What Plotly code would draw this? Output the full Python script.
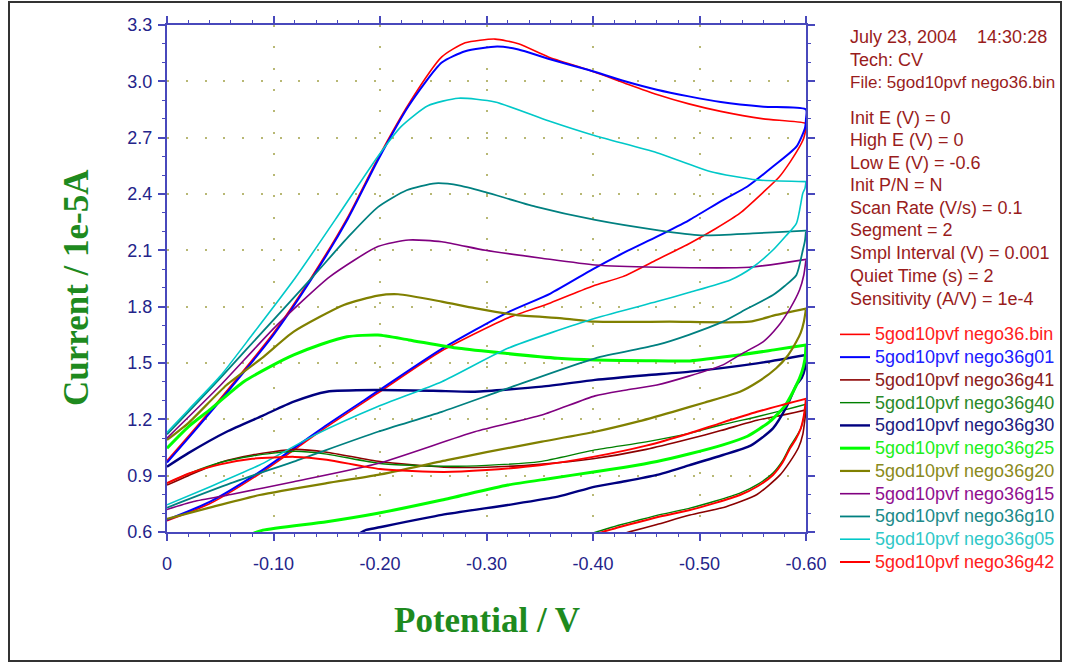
import plotly.graph_objects as go

# ---- cyclic voltammograms (potential in V, current in 1e-5 A) ----
# each curve: forward scan 0 -> -0.6 V followed by the return scan -0.6 -> 0 V

names = [
    "5god10pvf nego36.bin", "5god10pvf nego36g01", "5god10pvf nego36g41",
    "5god10pvf nego36g40", "5god10pvf nego36g30", "5god10pvf nego36g25",
    "5god10pvf nego36g20", "5god10pvf nego36g15", "5god10pvf nego36g10",
    "5god10pvf nego36g05", "5god10pvf nego36g42",
]
colors = ["#ff0000", "#0000ff", "#8b0000", "#008000", "#000080", "#00ff00",
          "#808000", "#800080", "#008080", "#00c8c8", "#ff0000"]
label_colors = ["#ff2020", "#2020ff", "#8b2020", "#2a8a2a", "#202080", "#20ee20",
                "#8a8a20", "#901090", "#208a8a", "#30c8c8", "#ff2020"]
widths = [1.6, 2.0, 1.6, 1.4, 2.4, 3.0, 2.2, 1.6, 1.8, 1.6, 2.0]

# nego36.bin
v_bin = [0, -0.02, -0.05, -0.10, -0.136, -0.17, -0.198, -0.227, -0.258, -0.28, -0.308, -0.33,
         -0.358, -0.396, -0.43, -0.46, -0.49, -0.52, -0.56, -0.6,
         -0.6, -0.598, -0.594, -0.585, -0.575, -0.56, -0.538, -0.515, -0.491, -0.46, -0.428,
         -0.40, -0.36, -0.32, -0.258, -0.198, -0.15, -0.087, -0.04, 0]
i_bin = [0.98, 1.11, 1.31, 1.66, 1.96, 2.28, 2.59, 2.88, 3.13, 3.205, 3.225, 3.20,
         3.13, 3.06, 2.99, 2.93, 2.88, 2.84, 2.80, 2.775,
         2.76, 2.70, 2.652, 2.57, 2.492, 2.41, 2.298, 2.215, 2.138, 2.05, 1.96,
         1.91, 1.82, 1.74, 1.565, 1.34, 1.16, 0.91, 0.75, 0.66]

# nego36g01
v_g01 = [0, -0.02, -0.05, -0.10, -0.136, -0.17, -0.198, -0.227, -0.258, -0.28, -0.31, -0.33,
         -0.358, -0.396, -0.43, -0.46, -0.49, -0.52, -0.56, -0.6,
         -0.6, -0.599, -0.591, -0.569, -0.545, -0.522, -0.49, -0.46, -0.43, -0.40,
         -0.36, -0.32, -0.258, -0.198, -0.15, -0.087, -0.04, 0]
i_g01 = [0.97, 1.10, 1.30, 1.65, 1.95, 2.27, 2.58, 2.87, 3.10, 3.16, 3.185, 3.17,
         3.12, 3.06, 3.00, 2.955, 2.92, 2.89, 2.865, 2.85,
         2.80, 2.75, 2.652, 2.546, 2.44, 2.368, 2.26, 2.173, 2.09, 2.0,
         1.87, 1.77, 1.575, 1.35, 1.17, 0.92, 0.76, 0.665]

# shared forward-scan potentials of the three low curves
v_low_fwd = [0, -0.02, -0.05, -0.08, -0.12, -0.15, -0.20, -0.26, -0.30, -0.35, -0.40,
             -0.45, -0.49, -0.52, -0.554, -0.58, -0.6]

# nego36g41
v_g41 = v_low_fwd + [-0.6, -0.599, -0.597, -0.593, -0.585, -0.575, -0.554, -0.525,
                     -0.491, -0.46, -0.435, -0.425]
i_g41 = [0.85, 0.90, 0.97, 1.01, 1.04, 1.025, 0.975, 0.945, 0.945, 0.96, 0.99,
         1.04, 1.095, 1.14, 1.195, 1.225, 1.25,
         1.25, 1.20, 1.12, 1.05, 0.975, 0.90, 0.80, 0.735, 0.69, 0.64, 0.602, 0.585]

# nego36g40
v_g40 = v_low_fwd + [-0.6, -0.598, -0.595, -0.59, -0.585, -0.578, -0.569, -0.555, -0.538,
                     -0.515, -0.491, -0.465, -0.444, -0.425, -0.41, -0.40]
i_g40 = [0.86, 0.91, 0.97, 1.005, 1.03, 1.015, 0.965, 0.95, 0.955, 0.975, 1.035,
         1.08, 1.125, 1.17, 1.214, 1.25, 1.28,
         1.28, 1.21, 1.15, 1.10, 1.056, 0.98, 0.914, 0.855, 0.807,
         0.765, 0.727, 0.695, 0.665, 0.637, 0.612, 0.595]

# nego36g30
v_g30 = [0, -0.02, -0.056, -0.09, -0.119, -0.15, -0.198, -0.25, -0.289, -0.352, -0.402,
         -0.45, -0.491, -0.554, -0.6,
         -0.6, -0.599, -0.596, -0.591, -0.582, -0.569, -0.548, -0.522, -0.49, -0.46,
         -0.43, -0.402, -0.367, -0.32, -0.258, -0.195, -0.187, -0.18]
i_g30 = [0.948, 1.02, 1.134, 1.22, 1.294, 1.347, 1.356, 1.352, 1.347, 1.374, 1.41,
         1.435, 1.454, 1.498, 1.543,
         1.543, 1.47, 1.42, 1.383, 1.27, 1.152, 1.06, 1.01, 0.955, 0.904,
         0.87, 0.842, 0.788, 0.744, 0.691, 0.62, 0.611, 0.59]

# nego36g25
v_g25 = [0, -0.02, -0.04, -0.072, -0.10, -0.119, -0.145, -0.169, -0.198, -0.227, -0.274,
         -0.32, -0.367, -0.402, -0.45, -0.491, -0.538, -0.57, -0.6,
         -0.6, -0.599, -0.596, -0.591, -0.58, -0.566, -0.545, -0.522, -0.49, -0.46,
         -0.43, -0.402, -0.36, -0.32, -0.258, -0.198, -0.15, -0.09, -0.08]
i_g25 = [1.046, 1.16, 1.25, 1.40, 1.49, 1.543, 1.60, 1.64, 1.649, 1.623, 1.578,
         1.55, 1.525, 1.516, 1.512, 1.511, 1.543, 1.57, 1.596,
         1.596, 1.52, 1.45, 1.383, 1.27, 1.188, 1.11, 1.064, 1.015, 0.975,
         0.945, 0.921, 0.885, 0.85, 0.77, 0.70, 0.655, 0.61, 0.59]

# nego36g20
v_g20 = [0, -0.02, -0.056, -0.09, -0.119, -0.166, -0.198, -0.217, -0.258, -0.289, -0.327,
         -0.371, -0.402, -0.472, -0.547, -0.572, -0.6,
         -0.6, -0.598, -0.595, -0.591, -0.583, -0.572, -0.555, -0.538, -0.505, -0.475,
         -0.44, -0.402, -0.352, -0.30, -0.264, -0.198, -0.15, -0.087, -0.04, 0]
i_g20 = [1.09, 1.18, 1.383, 1.53, 1.667, 1.809, 1.859, 1.866, 1.827, 1.792, 1.756,
         1.738, 1.72, 1.72, 1.72, 1.756, 1.79,
         1.79, 1.72, 1.66, 1.614, 1.54, 1.472, 1.40, 1.347, 1.29, 1.24,
         1.185, 1.134, 1.081, 1.025, 0.984, 0.904, 0.86, 0.797, 0.73, 0.67]

# nego36g15
v_g15 = [0, -0.05, -0.103, -0.153, -0.198, -0.227, -0.258, -0.299, -0.352, -0.402,
         -0.46, -0.547, -0.6,
         -0.6, -0.598, -0.594, -0.585, -0.573, -0.56, -0.54, -0.522, -0.49, -0.46,
         -0.43, -0.402, -0.352, -0.289, -0.198, -0.119, -0.06, -0.025, 0]
i_g15 = [1.10, 1.38, 1.70, 1.96, 2.12, 2.155, 2.146, 2.10, 2.058, 2.022,
         2.01, 2.01, 2.052,
         2.052, 1.97, 1.89, 1.79, 1.69, 1.614, 1.55, 1.49, 1.43, 1.383,
         1.355, 1.325, 1.223, 1.134, 0.965, 0.868, 0.80, 0.762, 0.72]

# nego36g10
v_g10 = [0, -0.05, -0.10, -0.137, -0.17, -0.198, -0.225, -0.252, -0.275, -0.299, -0.346,
         -0.402, -0.46, -0.501, -0.55, -0.6,
         -0.6, -0.599, -0.597, -0.591, -0.58, -0.569, -0.545, -0.522, -0.49, -0.46,
         -0.402, -0.32, -0.258, -0.198, -0.119, -0.06, 0]
i_g10 = [1.12, 1.42, 1.73, 1.96, 2.17, 2.33, 2.42, 2.457, 2.445, 2.41, 2.333,
         2.262, 2.208, 2.18, 2.19, 2.205,
         2.205, 2.15, 2.10, 1.969, 1.91, 1.862, 1.79, 1.72, 1.65, 1.596,
         1.525, 1.365, 1.24, 1.134, 0.975, 0.86, 0.73]

# nego36g05
v_g05 = [0, -0.02, -0.05, -0.08, -0.12, -0.16, -0.198, -0.22, -0.245, -0.2735, -0.308,
         -0.358, -0.402, -0.46, -0.51, -0.554, -0.6,
         -0.6, -0.599, -0.597, -0.591, -0.58, -0.569, -0.55, -0.529, -0.49, -0.46,
         -0.402, -0.32, -0.258, -0.198, -0.14, -0.087, -0.04, 0]
i_g05 = [1.13, 1.25, 1.43, 1.65, 1.95, 2.28, 2.60, 2.76, 2.87, 2.91, 2.89,
         2.79, 2.71, 2.62, 2.52, 2.475, 2.466,
         2.466, 2.43, 2.404, 2.244, 2.17, 2.102, 2.01, 1.942, 1.875, 1.827,
         1.738, 1.578, 1.40, 1.268, 1.12, 0.957, 0.84, 0.745]

# nego36g42
v_g42 = v_low_fwd + [-0.6, -0.598, -0.595, -0.59, -0.585, -0.578, -0.569, -0.555, -0.538,
                     -0.515, -0.491, -0.465, -0.444, -0.425, -0.41, -0.40]
i_g42 = [0.86, 0.91, 0.96, 0.99, 1.0, 0.985, 0.935, 0.92, 0.93, 0.955, 1.0,
         1.06, 1.125, 1.18, 1.24, 1.28, 1.31,
         1.31, 1.22, 1.15, 1.09, 1.046, 0.97, 0.904, 0.845, 0.797,
         0.755, 0.717, 0.685, 0.655, 0.627, 0.602, 0.585]

potentials = [v_bin, v_g01, v_g41, v_g40, v_g30, v_g25, v_g20, v_g15, v_g10, v_g05, v_g42]
currents = [i_bin, i_g01, i_g41, i_g40, i_g30, i_g25, i_g20, i_g15, i_g10, i_g05, i_g42]

# experiment parameters shown beside the plot
info_lines = [
    "July 23, 2004\u00a0\u00a0\u00a0\u00a014:30:28",
    "Tech: CV",
    "File: 5god10pvf nego36.bin",
    "Init E (V) = 0",
    "High E (V) = 0",
    "Low E (V) = -0.6",
    "Init P/N = N",
    "Scan Rate (V/s) = 0.1",
    "Segment = 2",
    "Smpl Interval (V) = 0.001",
    "Quiet Time (s) = 2",
    "Sensitivity (A/V) = 1e-4",
]
info_sizes = [18, 18, 17, 18, 18, 18, 18, 18, 18, 18, 18, 18]
info_y_px = [37, 60, 82, 118, 140, 163, 185.5, 208, 230.5, 253, 276, 298.5]

x_tickvals = [0, -0.1, -0.2, -0.3, -0.4, -0.5, -0.6]
x_ticktext = ["0", "-0.10", "-0.20", "-0.30", "-0.40", "-0.50", "-0.60"]
y_tickvals = [0.6, 0.9, 1.2, 1.5, 1.8, 2.1, 2.4, 2.7, 3.0, 3.3]
y_ticktext = ["0.6", "0.9", "1.2", "1.5", "1.8", "2.1", "2.4", "2.7", "3.0", "3.3"]

# ---- figure geometry (pixels) ----
W, H = 1065, 664
L, R, T, B = 167, 806, 25, 532
pw, ph = R - L, B - T


def px_x(x):
    return (x - L) / pw


def px_y(y):
    return (B - y) / ph


AXIS = "#4848bc"
TICKFONT = "#24248a"
GRID = "#b8b874"
INFO = "#991c1c"
TITLE = "#1e8a1e"

fig = go.Figure()
for name, col, lc, w, v, i in zip(names, colors, label_colors, widths, potentials, currents):
    fig.add_trace(go.Scatter(
        x=v, y=i, mode="lines",
        line=dict(color=col, width=w, shape="spline", smoothing=0.6),
        name=f'<span style="color:{lc};font-size:18px">{name}</span>',
        legendgroup=name,
    ))

axis_common = dict(
    showline=True, linecolor=AXIS, linewidth=2, mirror="allticks",
    ticks="outside", ticklen=7, tickwidth=1.5, tickcolor=AXIS,
    showgrid=True, gridcolor=GRID, gridwidth=2, zeroline=False,
    automargin=False,
    tickfont=dict(family="Liberation Sans, Arial", size=18, color=TICKFONT),
)

fig.update_xaxes(
    range=[0, -0.6], tickmode="array", tickvals=x_tickvals, ticktext=x_ticktext,
    griddash="2px,19.3px", ticklabelstandoff=7,
    minor=dict(tickmode="linear", tick0=0, dtick=0.02, ticks="outside", ticklen=3,
               tickwidth=1.2, tickcolor=AXIS, showgrid=False),
    **axis_common,
)
fig.update_yaxes(
    range=[0.6, 3.3], tickmode="array", tickvals=y_tickvals, ticktext=y_ticktext,
    griddash="2px,16.78px", ticklabelstandoff=2,
    minor=dict(tickmode="linear", tick0=0.6, dtick=0.1, ticks="outside", ticklen=3,
               tickwidth=1.2, tickcolor=AXIS, showgrid=False),
    **axis_common,
)

annotations = []
for txt, fs, ypx in zip(info_lines, info_sizes, info_y_px):
    annotations.append(dict(
        text=txt, x=px_x(848), y=px_y(ypx), xref="paper", yref="paper",
        xanchor="left", yanchor="middle", showarrow=False,
        font=dict(family="Liberation Sans, Arial", size=fs, color=INFO),
    ))
annotations.append(dict(
    text="Potential / V", x=0.5, y=px_y(620), xref="paper", yref="paper",
    xanchor="center", yanchor="middle", showarrow=False,
    font=dict(family="Liberation Serif, Times New Roman", size=35, color=TITLE, weight="bold"),
))
annotations.append(dict(
    text="Current / 1e-5A", x=px_x(76), y=px_y(288), xref="paper", yref="paper",
    xanchor="center", yanchor="middle", showarrow=False, textangle=-90,
    font=dict(family="Liberation Serif, Times New Roman", size=35, color=TITLE, weight="bold"),
))

fig.update_layout(
    width=W, height=H,
    margin=dict(l=L, r=W - R, t=T, b=H - B, autoexpand=False),
    paper_bgcolor="white", plot_bgcolor="white",
    showlegend=True,
    legend=dict(
        xref="container", yref="container",
        x=835 / W, y=1 - 318 / H, xanchor="left", yanchor="top",
        bgcolor="rgba(0,0,0,0)", borderwidth=0,
        font=dict(family="Liberation Sans, Arial", size=15.2, color="black"),
        tracegroupgap=0, itemwidth=30, traceorder="normal",
    ),
    annotations=annotations,
    shapes=[dict(
        type="rect", xref="paper", yref="paper",
        x0=px_x(9), x1=px_x(1061), y0=px_y(661), y1=px_y(2),
        line=dict(color="#333333", width=2), fillcolor="rgba(0,0,0,0)", layer="below",
    )],
)

fig.write_html("out.html")
